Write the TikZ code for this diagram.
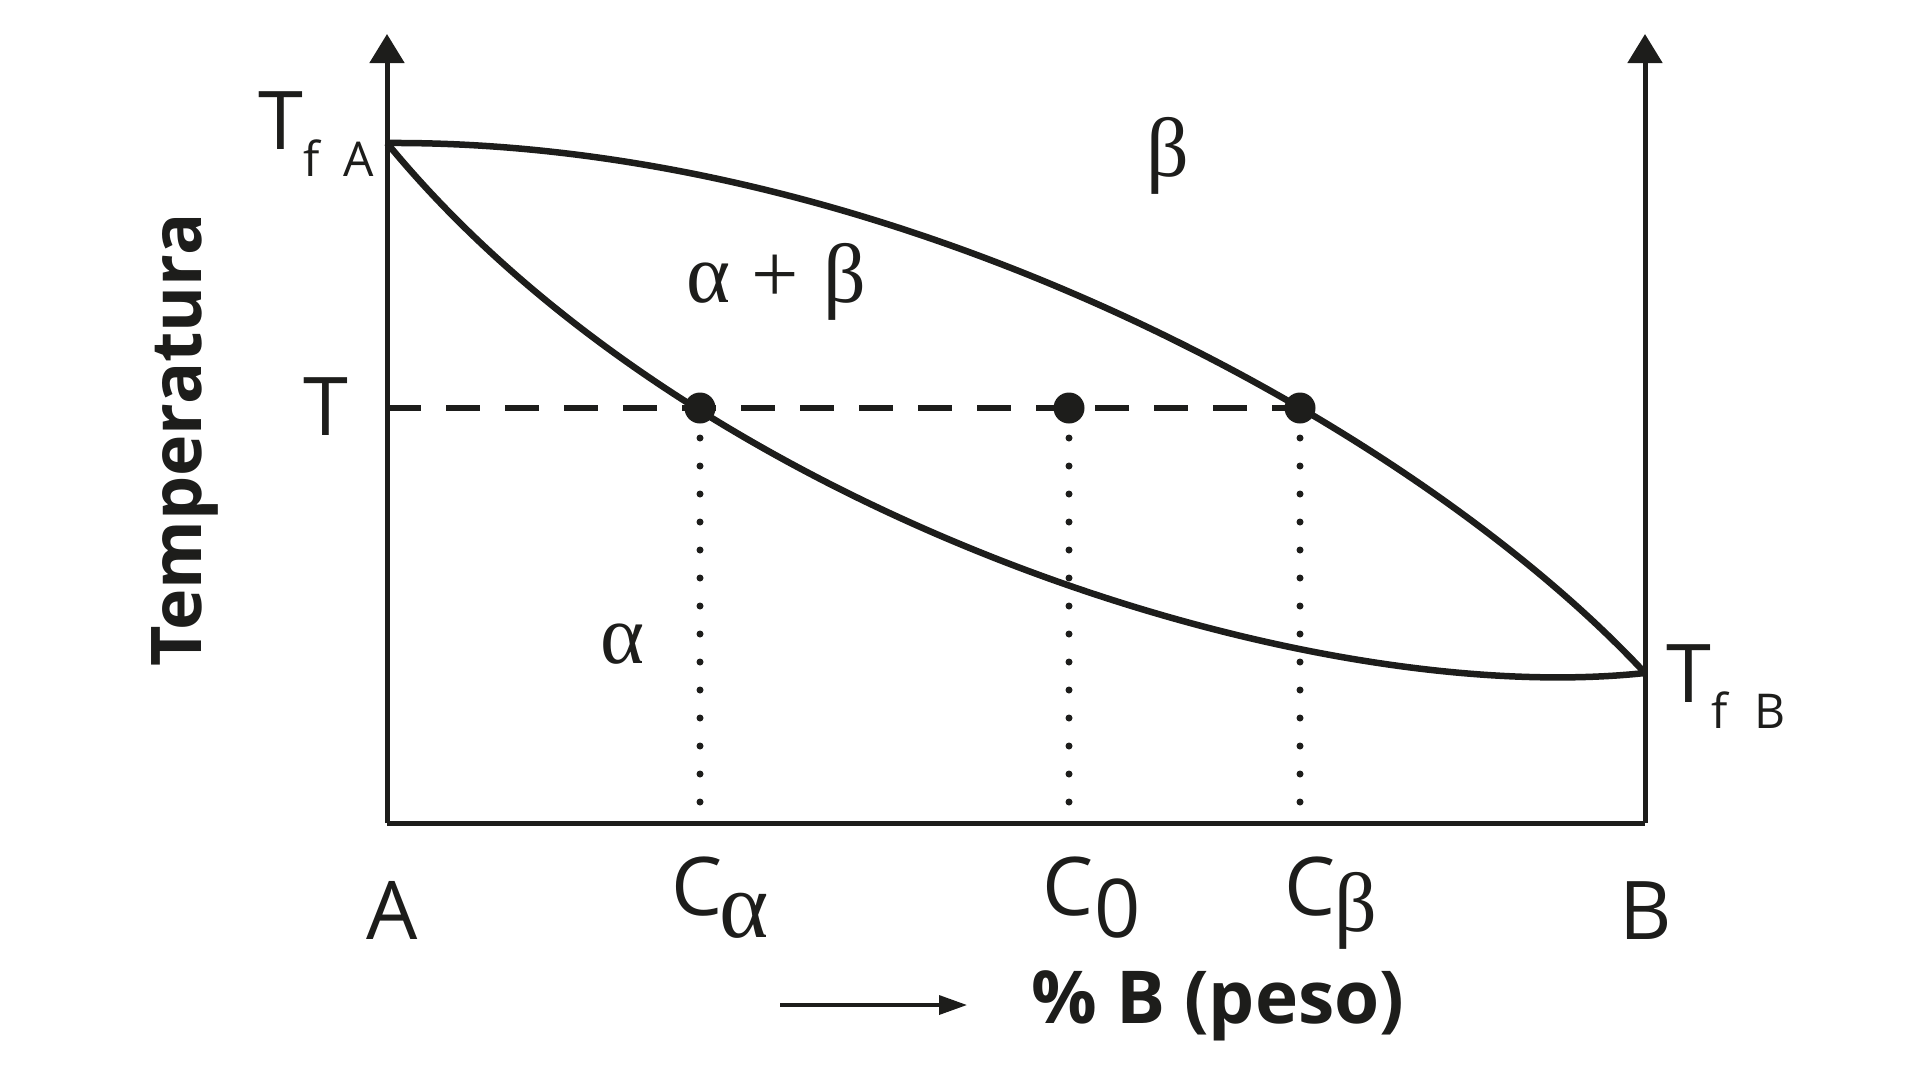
\documentclass[tikz,border=0pt]{standalone}
\usepackage{fontspec}
\setmainfont{Open Sans}
\newfontfamily\gk{Liberation Serif}
\usetikzlibrary{arrows.meta}
\definecolor{ink}{RGB}{29,29,27}
\tikzset{
  lbl/.style={inner sep=0pt, outer sep=0pt, text=ink},
  big/.style={lbl, font=\fontsize{81}{81}\selectfont},
  small/.style={lbl, font=\fontsize{48}{48}\selectfont},
  greek/.style={lbl, font=\gk\fontsize{84}{84}\selectfont},
  greeksub/.style={lbl, font=\gk\fontsize{94}{94}\selectfont},
  boldlbl/.style={lbl, font=\bfseries\fontsize{70}{70}\selectfont},
  xboldlbl/.style={lbl, font=\bfseries\fontsize{73}{73}\selectfont},
  axisline/.style={draw=ink, line width=5pt},
  axisarrow/.style={axisline, -{Triangle[length=29pt,width=34pt]}},
  curveline/.style={draw=ink, line width=6.5pt},
  tieline/.style={draw=ink, line width=5.5pt, dash pattern=on 34pt off 25pt},
  dropline/.style={draw=ink, line width=7pt, line cap=round, dash pattern=on 0pt off 28pt},
  pointdot/.style={circle, fill=ink, inner sep=0pt, minimum size=31pt},
  smallarrow/.style={draw=ink, line width=3.5pt, -{Triangle[length=28pt,width=19pt]}}
}
\begin{document}
\begin{tikzpicture}[x=1pt,y=-1pt]
\useasboundingbox (0,0) rectangle (1920,1080);
% key coordinates
\coordinate (O) at (387,823);
\coordinate (Btm) at (1645,823);
\coordinate (Ltop) at (387,34);
\coordinate (Rtop) at (1645,34);
\coordinate (TA) at (387,143);
\coordinate (TB) at (1645,673);
\coordinate (Tleft) at (387,408);
\coordinate (Da) at (700,408);
\coordinate (D0) at (1069,408);
\coordinate (Db) at (1300,408);
\coordinate (Fa) at (700,438);
\coordinate (F0) at (1069,438);
\coordinate (Fb) at (1300,438);
\coordinate (Ea) at (700,805);
\coordinate (E0) at (1069,805);
\coordinate (Eb) at (1300,805);
\coordinate (ArrS) at (780,1005);
\coordinate (ArrE) at (967,1005);

% axes
\draw[axisarrow] (O) -- (Ltop);
\draw[axisarrow] (Btm) -- (Rtop);
\draw[axisline] (O) -- (Btm);

% tie line and drop lines
\draw[tieline] (Tleft) -- (Db);
\draw[dropline] (Fa) -- (Ea);
\draw[dropline] (F0) -- (E0);
\draw[dropline] (Fb) -- (Eb);

% curves
\draw[curveline] (TA) .. controls (900,140) and (1420,431) .. (TB);
\draw[curveline] (TA) .. controls (690,512) and (1300,710) .. (TB);

% dots
\node[pointdot] (pa) at (Da) {};
\node[pointdot] (p0) at (D0) {};
\node[pointdot] (pb) at (Db) {};

% temperature labels
\node[big, anchor=base west] (tfaT) at (258,149) {T};
\node[small, anchor=base west] (tfaf) at (303,176) {f};
\node[small, anchor=base west] (tfaA) at (343,176) {A};
\node[big, anchor=base west] (tfbT) at (1666,702) {T};
\node[small, anchor=base west] (tfbf) at (1711,728) {f};
\node[small, anchor=base west] (tfbB) at (1754,728) {B};
\node[big, anchor=base] (tT) at (326,435) {T};

% phase labels
\node[greek, anchor=base] (lbeta) at (1168,176) {β};
\node[greek, anchor=base west] (lab) at (686,302) {α\hspace{22pt}+\hspace{24pt}β};
\node[greek, anchor=base west] (lalpha) at (600,663) {α};

% composition labels
\node[big, anchor=base] (lA) at (392,939) {A};
\node[big, anchor=base] (lB) at (1646,939) {B};
\node[big, anchor=base west] (caC) at (671,915) {C};
\node[greeksub, anchor=base west] (caa) at (719,937) {α};
\node[big, anchor=base west] (c0C) at (1042,915) {C};
\node[big, anchor=base west] (c00) at (1094,937) {0};
\node[big, anchor=base west] (cbC) at (1284,915) {C};
\node[greek, anchor=base west] (cbb) at (1334,931) {β};

% axis titles
\node[boldlbl, anchor=base, rotate=90] (ttl) at (201,440) {Temperatura};
\draw[smallarrow] (ArrS) -- (ArrE);
\node[xboldlbl, anchor=base] (xtl) at (1218,1023) {\% B (peso)};
\end{tikzpicture}
\end{document}
